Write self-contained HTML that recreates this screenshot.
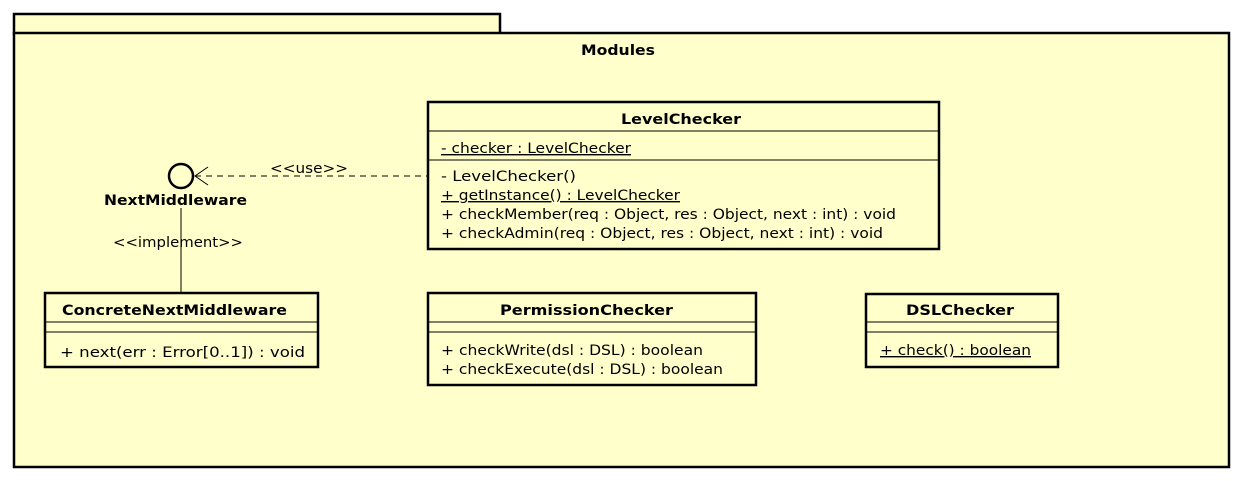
<!DOCTYPE html>
<html><head><style>body{margin:0;background:#fff}svg{display:block}</style></head><body>
<svg width="1242" height="481" xmlns="http://www.w3.org/2000/svg" font-family="DejaVu Sans, sans-serif" font-size="14" lengthAdjust="spacingAndGlyphs">
<rect x="14" y="14" width="486" height="20" fill="#ffffcc" stroke="#000" stroke-width="2.5"/>
<rect x="14" y="33" width="1215" height="434" fill="#ffffcc" stroke="#000" stroke-width="2.5"/>
<text x="581" y="55" font-weight="bold" textLength="74" lengthAdjust="spacingAndGlyphs">Modules</text>

<rect x="428" y="102" width="511" height="147" fill="#ffffcc" stroke="#000" stroke-width="2.5"/>
<line x1="428" y1="131" x2="939" y2="131" stroke="#000"/>
<line x1="428" y1="160" x2="939" y2="160" stroke="#000"/>
<text x="621" y="124" font-weight="bold" textLength="120" lengthAdjust="spacingAndGlyphs">LevelChecker</text>
<text x="441" y="153" text-decoration="underline" textLength="190" lengthAdjust="spacingAndGlyphs">- checker : LevelChecker</text>
<text x="441" y="181" textLength="135" lengthAdjust="spacingAndGlyphs">- LevelChecker()</text>
<text x="441" y="200" text-decoration="underline" textLength="239" lengthAdjust="spacingAndGlyphs">+ getInstance() : LevelChecker</text>
<text x="441" y="219" textLength="455" lengthAdjust="spacingAndGlyphs">+ checkMember(req : Object, res : Object, next : int) : void</text>
<text x="441" y="238" textLength="442" lengthAdjust="spacingAndGlyphs">+ checkAdmin(req : Object, res : Object, next : int) : void</text>

<rect x="45" y="293" width="273" height="74" fill="#ffffcc" stroke="#000" stroke-width="2.5"/>
<line x1="45" y1="322" x2="318" y2="322" stroke="#000"/>
<line x1="45" y1="332" x2="318" y2="332" stroke="#000"/>
<text x="62" y="315" font-weight="bold" textLength="225" lengthAdjust="spacingAndGlyphs">ConcreteNextMiddleware</text>
<text x="60" y="357" textLength="245" lengthAdjust="spacingAndGlyphs">+ next(err : Error[0..1]) : void</text>

<rect x="428" y="293" width="328" height="92" fill="#ffffcc" stroke="#000" stroke-width="2.5"/>
<line x1="428" y1="322" x2="756" y2="322" stroke="#000"/>
<line x1="428" y1="332" x2="756" y2="332" stroke="#000"/>
<text x="500" y="315" font-weight="bold" textLength="173" lengthAdjust="spacingAndGlyphs">PermissionChecker</text>
<text x="441" y="355" textLength="262" lengthAdjust="spacingAndGlyphs">+ checkWrite(dsl : DSL) : boolean</text>
<text x="441" y="374" textLength="282" lengthAdjust="spacingAndGlyphs">+ checkExecute(dsl : DSL) : boolean</text>

<rect x="866" y="294" width="192" height="73" fill="#ffffcc" stroke="#000" stroke-width="2.5"/>
<line x1="866" y1="322" x2="1058" y2="322" stroke="#000"/>
<line x1="866" y1="332" x2="1058" y2="332" stroke="#000"/>
<text x="906" y="315" font-weight="bold" textLength="108" lengthAdjust="spacingAndGlyphs">DSLChecker</text>
<text x="880" y="355" text-decoration="underline" textLength="151" lengthAdjust="spacingAndGlyphs">+ check() : boolean</text>

<circle cx="181" cy="176" r="12" fill="#ffffcc" stroke="#000" stroke-width="2.5"/>
<text x="104" y="205" font-weight="bold" textLength="143" lengthAdjust="spacingAndGlyphs">NextMiddleware</text>
<line x1="181" y1="208" x2="181" y2="293" stroke="#000"/>
<text x="113" y="247" textLength="130" lengthAdjust="spacingAndGlyphs">&lt;&lt;implement&gt;&gt;</text>
<line x1="195" y1="176" x2="427" y2="176" stroke="#000" stroke-dasharray="6,5"/>
<polyline points="208,167 195,176 208,185" fill="none" stroke="#000"/>
<text x="270" y="173" textLength="78" lengthAdjust="spacingAndGlyphs">&lt;&lt;use&gt;&gt;</text>
</svg>
</body></html>
